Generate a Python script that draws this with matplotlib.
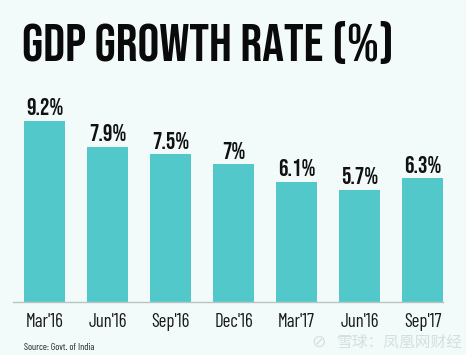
import matplotlib
matplotlib.use("Agg")
import matplotlib.pyplot as plt

categories = ["Mar'16", "Jun'16", "Sep'16", "Dec'16", "Mar'17", "Jun'16", "Sep'17"]
values = [9.2, 7.9, 7.5, 7.0, 6.1, 5.7, 6.3]
value_labels = ["9.2%", "7.9%", "7.5%", "7%", "6.1%", "5.7%", "6.3%"]
title = "GDP GROWTH RATE (%)"
source = "Source: Govt. of India"
watermark = "雪球：凤凰网财经"

TITLE_FONT = ["Bebas Neue", "DejaVu Sans"]
LABEL_FONT = ["Barlow Condensed", "DejaVu Sans"]

BG = "#f2fbfa"
BAR = "#52c8ca"

W, H = 466, 355
fig = plt.figure(figsize=(W / 100, H / 100), dpi=100, facecolor=BG)
ax = fig.add_axes([13 / W, (H - 302) / H, (443 - 13) / W, 196.7 / H])
ax.set_facecolor(BG)

x = list(range(len(categories)))
ax.bar(x, values, width=0.65, color=BAR, zorder=2)
ax.set_xlim(-0.5, 6.325)
ax.set_ylim(0, 10)
for s in ["top", "right", "left"]:
    ax.spines[s].set_visible(False)
ax.spines["bottom"].set_color("#b8c4c4")
ax.spines["bottom"].set_linewidth(1.0)
ax.set_yticks([])
ax.set_xticks(x)
ax.set_xticklabels(categories, fontfamily=LABEL_FONT, fontstretch="condensed",
                   fontsize=13.5, color="#1a1a1a")
ax.tick_params(axis="x", length=0, pad=8)

for xi, v, lab in zip(x, values, value_labels):
    ax.annotate(lab, (xi, v), xytext=(0, 4), textcoords="offset points",
                ha="center", va="bottom", fontfamily=TITLE_FONT,
                fontsize=17, color="#111111")

fig.text(22 / W, 1 - 61 / H, title, fontfamily=TITLE_FONT,
         fontsize=39, color="#0a0a0a", ha="left", va="baseline")
fig.text(24 / W, 1 - 350 / H, source, fontfamily=LABEL_FONT, fontstretch="condensed",
         fontsize=7, color="#222222", ha="left", va="baseline")
fig.text(311 / W, 1 - 347 / H, "⊘", fontfamily="DejaVu Sans", fontsize=12.5,
         color="#d3e0e0", ha="left", va="baseline")
fig.text(337 / W, 1 - 347 / H, watermark,
         fontfamily=["Noto Sans CJK SC", "DejaVu Sans"], fontsize=11.3,
         color="#d3e0e0", ha="left", va="baseline")

fig.savefig("out.png", dpi=100, facecolor=BG)
